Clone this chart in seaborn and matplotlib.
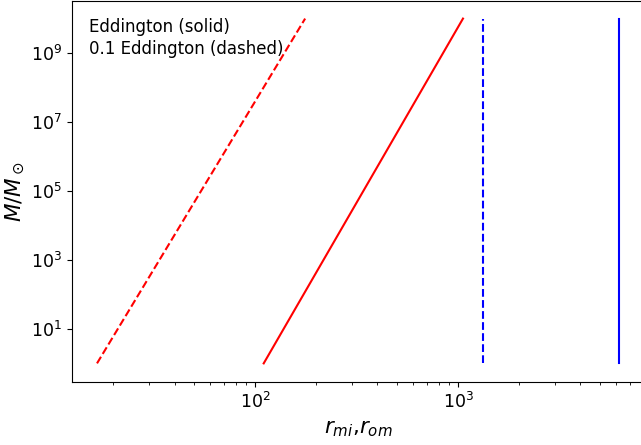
import matplotlib
matplotlib.use("Agg")
import matplotlib.pyplot as plt
import seaborn as sns
import pandas as pd

plt.rcParams['font.family'] = ['DejaVu Sans']

# Data
mass = [1.0, 1e10]
r_edd_solid = [110, 1055]        # red solid (Eddington)
r_edd_dashed = [16.6, 176]       # red dashed (0.1 Eddington)
r_om_solid = [6180, 6180]        # blue solid (Eddington)
r_om_dashed = [1323, 1323]       # blue dashed (0.1 Eddington)
x_major_ticks = [1e2, 1e3]
y_major_ticks = [1e1, 1e3, 1e5, 1e7, 1e9]

fig = plt.figure(figsize=(6.41, 4.45), dpi=100)
ax = fig.add_axes([72/641, 63/445, 573/641, 381/445])

series = [
    (r_edd_dashed, "red", "--"),
    (r_edd_solid, "red", "-"),
    (r_om_dashed, "blue", "--"),
    (r_om_solid, "blue", "-"),
]
for xs, c, ls in series:
    df = pd.DataFrame({"r": xs, "M": mass})
    sns.lineplot(data=df, x="r", y="M", color=c, linestyle=ls, linewidth=1.5,
                 ax=ax, estimator=None, sort=False)

ax.set_xscale("log")
ax.set_yscale("log")
ax.set_xticks(x_major_ticks)
ax.set_yticks(y_major_ticks)
ax.yaxis.set_minor_locator(matplotlib.ticker.NullLocator())
ax.set_xlim(12.5, 10**3.92)
ax.set_ylim(10**-0.54, 10**10.51)

ax.tick_params(labelsize=12.5)
ax.set_xlabel(r"$r_{mi}$,$r_{om}$", fontsize=15.5, va="top")
ax.set_ylabel(r"$M/M_\odot$", fontsize=15.5)
ax.xaxis.set_label_coords(0.5, -0.097)
ax.yaxis.set_label_coords(-0.078, 0.5)
ax.text(0.03, 0.955, "Eddington (solid)\n0.1 Eddington (dashed)", transform=ax.transAxes,
        fontsize=12, va="top", ha="left", linespacing=1.3, color="black")

fig.savefig("out.png", dpi=100)
